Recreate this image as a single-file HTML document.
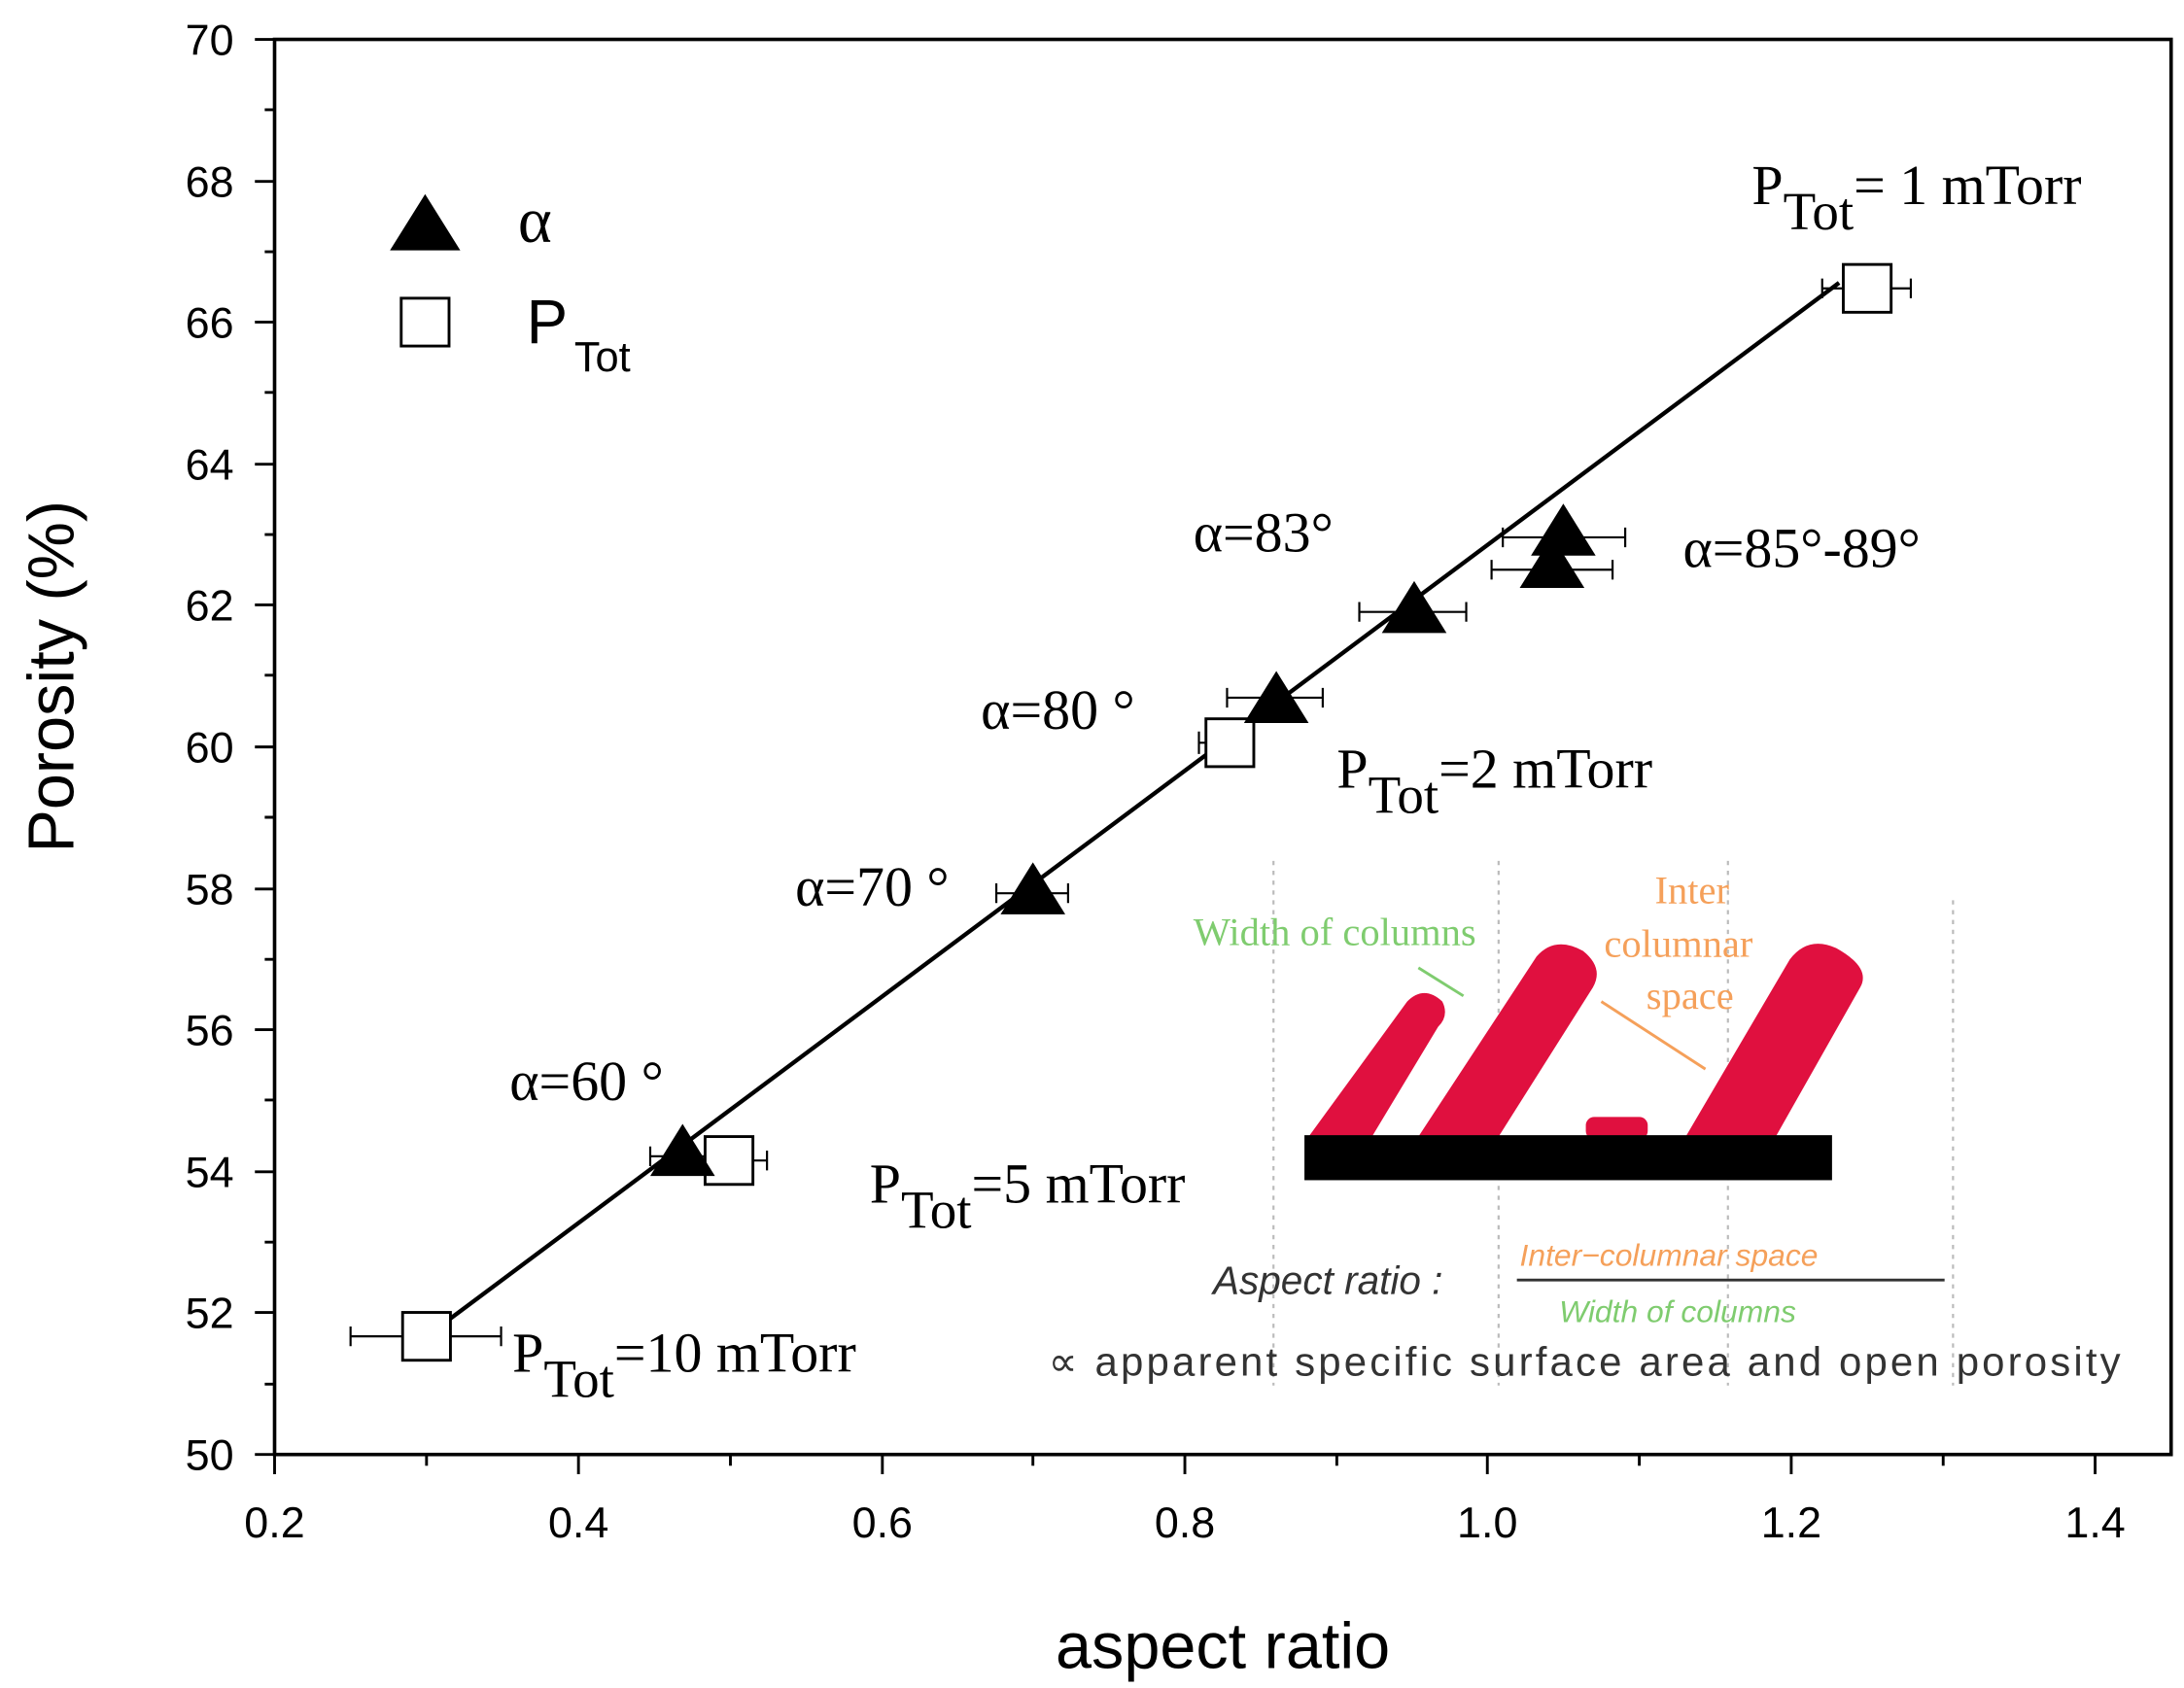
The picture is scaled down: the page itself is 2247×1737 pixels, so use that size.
<!DOCTYPE html>
<html><head><style>html,body{margin:0;padding:0;background:#fff}svg{display:block}</style></head><body>
<svg width="2247" height="1737" viewBox="0 0 1552 1200" xmlns="http://www.w3.org/2000/svg" font-family="Liberation Sans, sans-serif">
<rect width="1552" height="1200" fill="#fff"/>
<g stroke="#bbb" stroke-width="1.5" stroke-dasharray="3,4">
<line x1="905" y1="612" x2="905" y2="985"/><line x1="1065" y1="612" x2="1065" y2="985"/>
<line x1="1228" y1="612" x2="1228" y2="985"/><line x1="1388" y1="640" x2="1388" y2="985"/>
</g>
<g fill="#e0103f">
<path d="M930 808 L1000 712 Q1012 700 1025 712 Q1030 722 1022 730 L975 808 Z"/>
<path d="M1008 808 L1092 680 Q1105 665 1125 676 Q1140 688 1132 702 L1065 808 Z"/>
<rect x="1127" y="794" width="44" height="16" rx="6"/>
<path d="M1198 808 L1272 682 Q1285 665 1305 674 Q1330 688 1322 702 L1262 808 Z"/>
</g>
<rect x="927" y="807" width="375" height="32" fill="#000"/>
<text x="848" y="672" font-family="Liberation Serif, serif" font-size="28" fill="#7fcc6f">Width of columns</text>
<text x="1176" y="642" font-family="Liberation Serif, serif" font-size="28" fill="#f5a05a">Inter</text>
<text x="1140" y="680" font-family="Liberation Serif, serif" font-size="28" fill="#f5a05a">columnar</text>
<text x="1170" y="717" font-family="Liberation Serif, serif" font-size="28" fill="#f5a05a">space</text>
<line x1="1008" y1="688" x2="1040" y2="708" stroke="#7fcc6f" stroke-width="2"/>
<line x1="1138" y1="712" x2="1212" y2="760" stroke="#f5a05a" stroke-width="2"/>
<text x="862" y="920" font-size="28" font-style="italic" fill="#333">Aspect ratio :</text>
<text x="1080" y="900" font-size="22" font-style="italic" fill="#f5a05a">Inter−columnar space</text>
<line x1="1078" y1="910" x2="1382" y2="910" stroke="#333" stroke-width="2"/>
<text x="1108" y="940" font-size="22" font-style="italic" fill="#7fcc6f">Width of columns</text>
<text x="745" y="978" font-size="29" fill="#333" textLength="762">∝ apparent specific surface area and open porosity</text>
<rect x="195" y="28" width="1348" height="1006" fill="none" stroke="#000" stroke-width="2.5"/>
<g stroke="#000" stroke-width="2">
<line x1="195" y1="1034" x2="195" y2="1048"/><line x1="303" y1="1034" x2="303" y2="1042"/>
<line x1="411" y1="1034" x2="411" y2="1048"/><line x1="519" y1="1034" x2="519" y2="1042"/>
<line x1="627" y1="1034" x2="627" y2="1048"/><line x1="734" y1="1034" x2="734" y2="1042"/>
<line x1="842" y1="1034" x2="842" y2="1048"/><line x1="950" y1="1034" x2="950" y2="1042"/>
<line x1="1057" y1="1034" x2="1057" y2="1048"/><line x1="1165" y1="1034" x2="1165" y2="1042"/>
<line x1="1273" y1="1034" x2="1273" y2="1048"/><line x1="1381" y1="1034" x2="1381" y2="1042"/>
<line x1="1489" y1="1034" x2="1489" y2="1048"/>
<path d="M181 28H195M188 78H195M181 129H195M188 179H195M181 229H195M188 279H195M181 330H195M188 380H195M181 430H195M188 480H195M181 531H195M188 581H195M181 632H195M188 682H195M181 732H195M188 782H195M181 833H195M188 883H195M181 933H195M188 984H195M181 1034H195"/>
</g>
<g font-size="31" text-anchor="end">
<text x="166" y="39">70</text><text x="166" y="140">68</text><text x="166" y="240">66</text><text x="166" y="341">64</text><text x="166" y="441">62</text><text x="166" y="542">60</text><text x="166" y="643">58</text><text x="166" y="743">56</text><text x="166" y="844">54</text><text x="166" y="944">52</text><text x="166" y="1045">50</text>
</g>
<g font-size="31" text-anchor="middle">
<text x="195" y="1093">0.2</text><text x="411" y="1093">0.4</text><text x="627" y="1093">0.6</text><text x="842" y="1093">0.8</text><text x="1057" y="1093">1.0</text><text x="1273" y="1093">1.2</text><text x="1489" y="1093">1.4</text>
</g>
<text x="869" y="1186" font-size="46" text-anchor="middle">aspect ratio</text>
<text transform="translate(52,481) rotate(-90)" font-size="46" text-anchor="middle">Porosity (%)</text>
<line x1="303" y1="950" x2="1307" y2="201" stroke="#000" stroke-width="3"/>
<g stroke="#000" stroke-width="1.5" fill="none">
<path d="M249 950H356M249 943V957M356 943V957"/>
<path d="M470 825H545M545 818V832"/>
<path d="M1295 205H1358M1295 198V212M1358 198V212"/>
<path d="M852 528H885M852 520V536M885 520V536"/>
<path d="M872 496H940M872 489V503M940 489V503"/>
<path d="M966 435H1042M966 428V442M1042 428V442"/>
<path d="M1060 405H1146M1060 398V412M1146 398V412"/>
<path d="M1068 382H1155M1068 375V389M1155 375V389"/>
<path d="M708 635H759M708 628V642M759 628V642"/>
<path d="M462 822H510M462 815V829"/>
</g>
<g fill="#fff" stroke="#000" stroke-width="2">
<rect x="286" y="933" width="34" height="34"/>
<rect x="501" y="808" width="34" height="34"/>
<rect x="857" y="511" width="34" height="34"/>
<rect x="1310" y="188" width="34" height="34"/>
</g>
<g fill="#000">
<path d="M485 799L508 836H462Z"/>
<path d="M734 613L757 650H711Z"/>
<path d="M907 477L930 514H884Z"/>
<path d="M1005 413L1028 450H982Z"/>
<path d="M1103 381L1126 418H1080Z"/>
<path d="M1111 358L1134 395H1088Z"/>
<path d="M302 138L327 178H277Z"/>
</g>
<rect x="285" y="212" width="34" height="34" fill="#fff" stroke="#000" stroke-width="2"/>
<text x="368" y="172" font-size="46" font-family="Liberation Serif, serif">α</text>
<text x="374" y="244" font-size="44">P</text><text x="408" y="264" font-size="30">Tot</text>
<g font-family="Liberation Serif, serif" font-size="40">
<text x="1245" y="145">P<tspan font-size="38" dy="18">Tot</tspan><tspan dy="-18">= 1 mTorr</tspan></text>
<text x="848" y="392">α=83°</text>
<text x="1196" y="403">α=85°-89°</text>
<text x="697" y="518">α=80 °</text>
<text x="950" y="560">P<tspan font-size="38" dy="18">Tot</tspan><tspan dy="-18">=2 mTorr</tspan></text>
<text x="565" y="644">α=70 °</text>
<text x="362" y="782">α=60 °</text>
<text x="618" y="855">P<tspan font-size="38" dy="18">Tot</tspan><tspan dy="-18">=5 mTorr</tspan></text>
<text x="364" y="975">P<tspan font-size="38" dy="18">Tot</tspan><tspan dy="-18">=10 mTorr</tspan></text>
</g>
</svg>
</body></html>
